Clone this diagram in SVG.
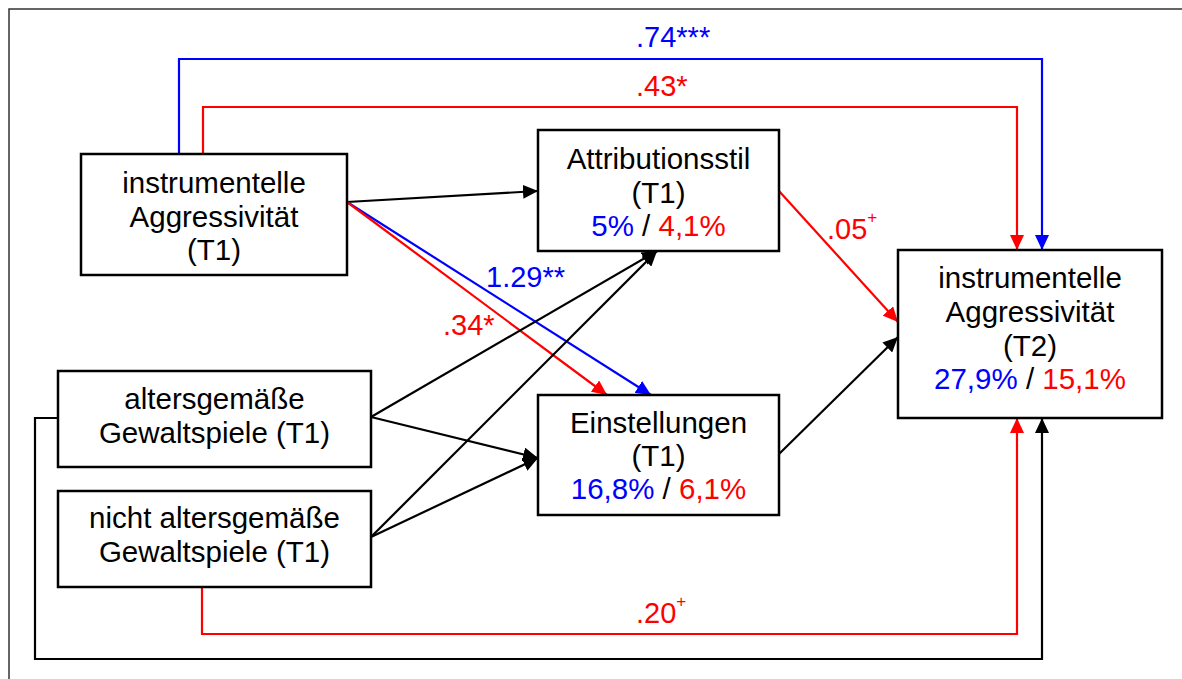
<svg xmlns="http://www.w3.org/2000/svg" width="1182" height="679" viewBox="0 0 1182 679">
<style>
.box{fill:#fff;stroke:#000;stroke-width:2.5}
.t{font-family:"Liberation Sans",Arial,sans-serif;font-size:29.5px;fill:#000;text-anchor:middle}
.l{font-family:"Liberation Sans",Arial,sans-serif;font-size:29px}
.b{fill:#0000ff}.r{fill:#ff0000}.k{fill:#000}
.ck{fill:none;stroke:#000;stroke-width:2.2}
.cr{fill:none;stroke:#ff0000;stroke-width:2.2}
.cb{fill:none;stroke:#0000ff;stroke-width:2.2}
</style>
<defs>
<marker id="ak" markerUnits="userSpaceOnUse" markerWidth="16" markerHeight="14" refX="15" refY="7" orient="auto"><path d="M0,0 L15,7 L0,14 z" fill="#000"/></marker>
<marker id="ar" markerUnits="userSpaceOnUse" markerWidth="16" markerHeight="14" refX="15" refY="7" orient="auto"><path d="M0,0 L15,7 L0,14 z" fill="#ff0000"/></marker>
<marker id="ab" markerUnits="userSpaceOnUse" markerWidth="16" markerHeight="14" refX="15" refY="7" orient="auto"><path d="M0,0 L15,7 L0,14 z" fill="#0000ff"/></marker>
</defs>
<rect x="0" y="0" width="1182" height="679" fill="#fff"/>
<rect x="9" y="9" width="1200" height="700" fill="none" stroke="#333" stroke-width="1.5"/>
<g id="connectors">
<path class="cb" d="M179,154 V59 H1042 V250" marker-end="url(#ab)"/>
<path class="cr" d="M203,154 V107 H1017 V250" marker-end="url(#ar)"/>
<path class="ck" d="M347,202 L538,191" marker-end="url(#ak)"/>
<path class="cb" d="M347,202 L651,395" marker-end="url(#ab)"/>
<path class="cr" d="M347,202 L607,395" marker-end="url(#ar)"/>
<path class="ck" d="M371,417 L657,251" marker-end="url(#ak)"/>
<path class="ck" d="M371,537 L657,251" marker-end="url(#ak)"/>
<path class="ck" d="M371,417 L538,458" marker-end="url(#ak)"/>
<path class="ck" d="M371,537 L538,458" marker-end="url(#ak)"/>
<path class="cr" d="M779,191 L898,322" marker-end="url(#ar)"/>
<path class="ck" d="M779,454 L898,337" marker-end="url(#ak)"/>
<path class="cr" d="M202,587 V634 H1017 V418" marker-end="url(#ar)"/>
<path class="ck" d="M58,418 H35 V659 H1042 V418" marker-end="url(#ak)"/>
</g>
<g id="labels">
<text class="l b" x="636" y="47">.74***</text>
<text class="l r" x="636" y="96">.43*</text>
<text class="l b" x="486" y="287">1.29**</text>
<text class="l r" x="443" y="335">.34*</text>
<text class="l r" x="827" y="239">.05<tspan font-size="17" dy="-16">+</tspan></text>
<text class="l r" x="636" y="623">.20<tspan font-size="17" dy="-16">+</tspan></text>
</g>
<g id="node-aggr-t1">
<rect class="box" x="81" y="154" width="266" height="121"/>
<text class="t" x="214" y="193">instrumentelle</text>
<text class="t" x="214" y="227">Aggressivität</text>
<text class="t" x="214" y="260">(T1)</text>
</g>
<g id="node-attribution">
<rect class="box" x="538" y="130" width="241" height="121"/>
<text class="t" x="658.5" y="169">Attributionsstil</text>
<text class="t" x="658.5" y="203">(T1)</text>
<text class="t" x="658.5" y="236"><tspan class="b">5%</tspan> / <tspan class="r">4,1%</tspan></text>
</g>
<g id="node-einstellungen">
<rect class="box" x="538" y="395" width="241" height="120"/>
<text class="t" x="658.5" y="433">Einstellungen</text>
<text class="t" x="658.5" y="466">(T1)</text>
<text class="t" x="658.5" y="499"><tspan class="b">16,8%</tspan> / <tspan class="r">6,1%</tspan></text>
</g>
<g id="node-altersgemaess">
<rect class="box" x="58" y="371" width="313" height="96"/>
<text class="t" x="214.5" y="409">altersgemäße</text>
<text class="t" x="214.5" y="443">Gewaltspiele (T1)</text>
</g>
<g id="node-nicht-altersgemaess">
<rect class="box" x="58" y="491" width="313" height="96"/>
<text class="t" x="214.5" y="528">nicht altersgemäße</text>
<text class="t" x="214.5" y="562">Gewaltspiele (T1)</text>
</g>
<g id="node-aggr-t2">
<rect class="box" x="898" y="250" width="264" height="168"/>
<text class="t" x="1030" y="288">instrumentelle</text>
<text class="t" x="1030" y="322">Aggressivität</text>
<text class="t" x="1030" y="356">(T2)</text>
<text class="t" x="1030" y="389"><tspan class="b">27,9%</tspan> / <tspan class="r">15,1%</tspan></text>
</g>
</svg>
